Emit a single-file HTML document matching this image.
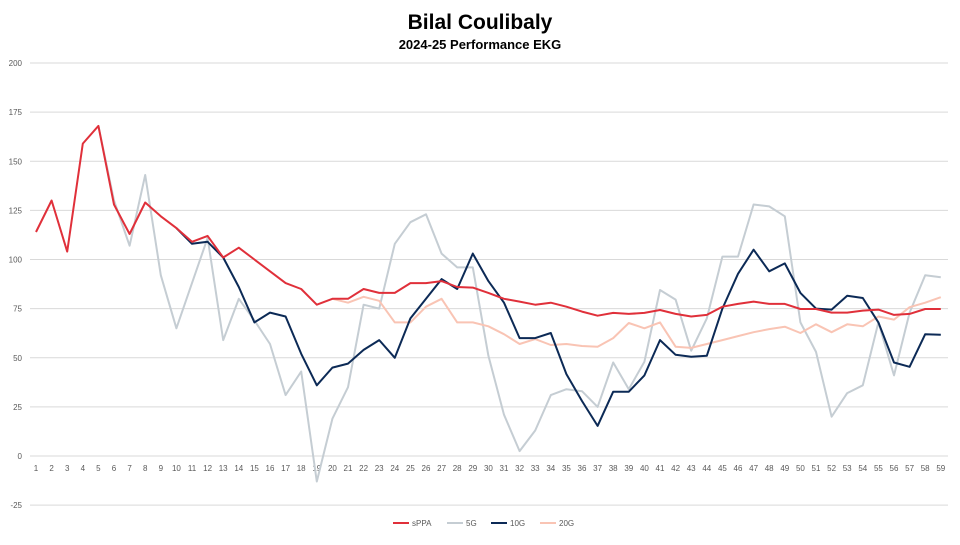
<!DOCTYPE html>
<html><head><meta charset="utf-8"><style>
body{margin:0;background:#fff;width:960px;height:540px;overflow:hidden;font-family:"Liberation Sans",sans-serif}
</style></head><body>
<svg id="c" width="960" height="540" xmlns="http://www.w3.org/2000/svg">
<text x="480" y="29" text-anchor="middle" font-family="Liberation Sans,sans-serif" font-weight="bold" font-size="21" fill="#000">Bilal Coulibaly</text>
<text x="480" y="49" text-anchor="middle" font-family="Liberation Sans,sans-serif" font-weight="bold" font-size="13" fill="#000">2024-25 Performance EKG</text>
<g id="g"></g>
</svg>
<script>
var s=document.getElementById('g'),NS='http://www.w3.org/2000/svg',h='';
function Y(v){return 456-v*1.965}
function X(i){return 36+(i-1)*15.6}
for(var v=-25;v<=200;v+=25){h+='<line x1="30" x2="948" y1="'+Y(v)+'" y2="'+Y(v)+'" stroke="#d9d9d9" stroke-width="1"/>';
h+='<text x="22" y="'+(Y(v)+3)+'" text-anchor="end" font-size="8" fill="#595959">'+v+'</text>';}
for(var i=1;i<=59;i++)h+='<text x="'+X(i)+'" y="471" text-anchor="middle" font-size="8" fill="#595959">'+i+'</text>';
var d={
g5:[null,null,null,null,168,130,107,143,92,65,88,111,59,80,69,57,31,43,-13,19,35,77,75,108,119,123,103,96,96,51,21,2.5,13,31,34,33,25,47.6,34,48,84.5,79.6,53.6,70,101.5,101.5,128,127,122,68,53,20,32,36,68,41,73,92,91],
g20:[null,null,null,null,null,null,null,null,null,null,null,null,null,null,null,null,null,null,null,80,78,81,79,68,68,76,80,68,68,66,62,57,59.5,56.5,57,56,55.6,60,67.7,65,68,55.6,55,57,59,61,63,64.6,65.8,62.6,67,63,67,66,71,69.4,75.7,78,80.8],
g10:[null,null,null,null,null,null,null,null,null,116,108,109,101,86,68,73,71,52,36,45,47,54,59,50,70,80,90,85,103,89,78,60,60,62.6,41.7,28,15.3,32.7,32.7,41,59,51.5,50.5,51,75,92.7,105,94,98,83,75,74.5,81.6,80.4,68,47.6,45.4,62,61.7],
sp:[114,130,104,159,168,128,113,129,122,116,109,112,101,106,100,94,88,85,77,80,80,85,83,83,88,88,89,86,85.7,83,80,78.6,77,78,76,73.5,71.4,72.8,72.3,72.8,74.3,72.3,71,71.8,76,77.4,78.6,77.4,77.4,74.8,74.8,73,73,74,74.5,71.8,72.3,74.8,74.8]};
function line(a,c){var p=[];a.forEach(function(v,i){if(v!==null)p.push(X(i+1).toFixed(1)+','+Y(v).toFixed(1))});
return '<polyline points="'+p.join(' ')+'" fill="none" stroke="'+c+'" stroke-width="2" stroke-linejoin="round"/>';}
h+=line(d.g5,'#c5cdd3')+line(d.g20,'#f9c4b4')+line(d.g10,'#0c2a56')+line(d.sp,'#e0303a');
var L=[['sPPA','#e0303a',393],['5G','#c5cdd3',447],['10G','#0c2a56',491],['20G','#f9c4b4',540]];
L.forEach(function(l){h+='<line x1="'+l[2]+'" x2="'+(l[2]+16)+'" y1="523" y2="523" stroke="'+l[1]+'" stroke-width="2"/><text x="'+(l[2]+19)+'" y="526" font-size="8" fill="#595959">'+l[0]+'</text>'});
s.innerHTML=h;
</script>
</body></html>
